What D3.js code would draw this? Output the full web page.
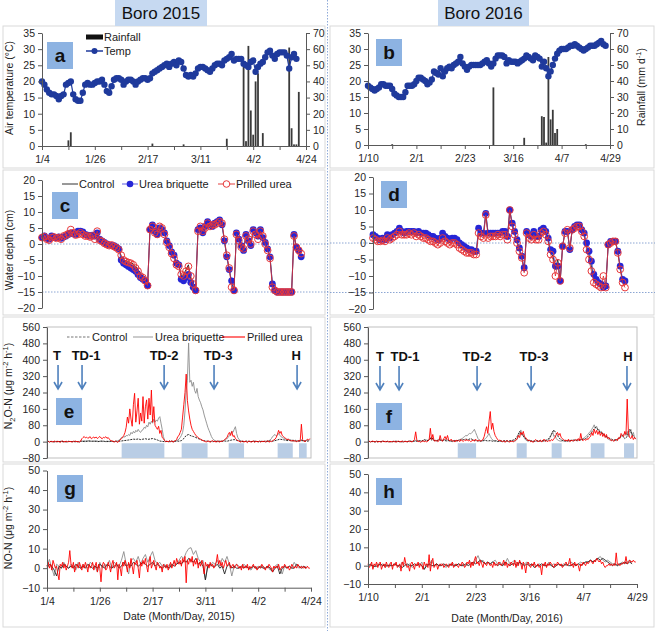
<!DOCTYPE html>
<meta charset="utf-8">
<head>
<style>
  body { margin: 0; background: #fff; }
  svg text { font-family: "Liberation Sans", Arial, sans-serif; }
</style>
</head>
<body>
<div id="content"></div>
<script src="https://d3js.org/d3.v7.min.js"></script>
<script>

// ---------- data ----------
var dateLabels15 = ["1/4", "1/26", "2/17", "3/11", "4/2", "4/24"];
var dateLabels16 = ["1/10", "2/1", "2/23", "3/16", "4/7", "4/29"];

// daily air temperature (°C), day 0 = first date
var temp15 = [20, 19, 17.5, 16.5, 16, 16, 15.5, 14.5, 15.5, 16,
  19, 19.5, 20, 16, 14.5, 14, 14, 16.5, 19, 19.5,
  19, 19, 19.5, 20, 20, 20.5, 19, 17, 16.5, 18.5,
  20.5, 21, 21, 20.5, 19, 20, 20.5, 20.5, 20, 19,
  20, 20.5, 21, 21, 20.5, 21, 22.5, 23, 23.5, 24,
  24.5, 25, 25.5, 24.5, 25.5, 26, 25, 26.5, 26, 24,
  22, 21.5, 22, 21.5, 22.5, 24, 24.5, 24.5, 24, 23.5,
  23, 24, 25, 25.5, 25.5, 25, 26.5, 27, 27.5, 28.5,
  26.5, 27, 27, 27, 25.5, 25, 24.5, 26, 26.5, 23,
  24.5, 25.5, 26, 27.5, 29, 29.5, 28, 27, 28.5, 29,
  29, 29, 28, 24, 27.5, 28.5, 27];
var temp16 = [18.5, 18, 17.5, 17, 17.5, 18, 19, 19, 18.5, 18.5,
  18.5, 17.5, 16, 15.5, 15, 15, 15, 16.5, 18.5, 18.5,
  18.5, 19, 20, 21, 21, 20.5, 20, 19, 19.5, 20.5,
  23, 22.5, 22, 24, 21.5, 23, 24, 24.5, 24, 25,
  25.5, 26, 27.5, 25.5, 24.5, 23.5, 24.5, 25, 25, 25,
  25, 25, 25.5, 26, 26.5, 25.5, 24.5, 25.5, 27, 28,
  28, 28, 27.5, 25.5, 26.5, 26, 26, 26, 25.5, 26,
  26.5, 27, 28, 27.5, 27, 26.5, 28, 27.5, 27, 24.5,
  26, 24, 21.5, 23, 25, 27, 28.5, 29.5, 30, 30,
  30, 30.5, 31, 31, 31.5, 31, 30.5, 30, 29.5, 30,
  30.5, 31, 31, 31, 31.5, 32, 32.5, 31.5, 31];

// rainfall (mm/d): day and amount
var rainDay15 = [11, 12, 46, 59, 77, 84, 85, 86, 87, 88, 89, 90, 92, 103, 104, 105, 106, 107];
var rainVal15 = [3.5, 8.5, 1.5, 1, 4.5, 51, 3, 62, 22, 7, 40, 45, 8, 61, 11, 1, 1, 33.5];
var rainDay16 = [11, 57, 71, 79, 80, 81, 82, 83, 84, 85, 86, 99];
var rainVal16 = [0.5, 36, 4.5, 18, 17.5, 1.5, 55, 16, 22, 7.5, 10, 0.5];

// water depth (cm), daily
var wdCT15 = [2, 2.2, 1.8, 1.5, 2.2, 2, 2, 2, 1.8, 2.2,
  2.5, 3, 3.5, 3.5, 3.2, 3.5, 3.8, 3.5, 3, 2.8,
  2.5, 2.5, 2.5, 3.5, 1.5, 1, 0.5, 0, -0.3, -0.5,
  -0.8, -1.2, -1.5, -4, -5, -5.2, -5.5, -5.8, -6.2, -7,
  -8, -9, -10, -11.5, -13, 4.5, 6, 4, 3, 5,
  4.5, 3.5, 1, -0.5, -2.5, -3.5, -6, -6.5, -10, -9.5,
  -8, -6.5, -11, -13, -14.5, 4.5, 5, 3.5, 5.5, 7,
  6, 5.5, 6.5, 7, 7.5, 6, 1, -4, -8, -12,
  -14.5, 3.5, 1.5, -0.5, -2, 3, 1, -0.5, 4.5, 3.5,
  2.5, 4.5, 2, 0.5, -1.5, -4, -12.5, -14.5, -15, -15,
  -15, -15, -15, -15, -15, 3, -1, -2, -4];
var wdUB15 = [2, 2.5, 1.8, 1.5, 2.5, 2, 2, 2.2, 1.8, 2.2,
  2.5, 3, 3.5, 3.2, 3, 4, 4, 3.8, 3, 2.8,
  2.5, 2.8, 2.5, 3.5, 1.5, 1, 0.5, 0, -0.3, -0.5,
  -0.5, -1, -1.5, -5, -6, -6.5, -7, -7.5, -8, -8.5,
  -9.5, -10.5, -11, -11.5, -13, 4.5, 6, 4, 3, 5,
  4.5, 3.5, 1, -0.5, -2.5, -3.5, -6, -6.5, -11, -11.5,
  -10.5, -9.5, -12, -13.5, -14.5, 4.5, 5, 3.5, 5.5, 7,
  6, 5.5, 6.5, 7, 7.5, 6, 1, -4, -8, -11.5,
  -14.5, 3.5, 1.5, -0.5, -2, 3, 1, -0.5, 4.5, 3.5,
  2.5, 4.5, 2, 0.5, -1.5, -4, -12.5, -14.5, -15, -15,
  -15, -15, -15, -15, -15, 3, -1, -2, -4];
var wdPU15 = [2, 2.3, 1.5, 1.2, 2, 2.2, 1.8, 2, 1.5, 2.5,
  2.8, 3.2, 4.5, 3.5, 2.8, 3, 3.5, 3, 2.5, 2.5,
  2.2, 2.5, 1.5, 4, 1.2, 0.8, 0.2, -0.2, -0.5, -0.3,
  -0.8, -1.2, -1.8, -3.5, -5, -5.5, -5.8, -6, -6.5, -7.5,
  -8.5, -10, -10.5, -11.5, -13, 4.5, 5.5, 3.5, 3, 5.5,
  5, 3, 0.5, -1, -3, -4.5, -6.5, -7, -9.5, -10,
  -8.5, -7, -10, -12.5, -14.5, 4, 5.5, 4, 5, 6.5,
  5.5, 6, 6, 6.5, 7, 6.5, 1.5, -3.5, -7.5, -13.5,
  -14.5, 3, 1, -1, -1.5, 2.5, 1.5, 0, 4, 3,
  1.5, 4, 2.5, 0, -2, -4.5, -13.5, -14.5, -15, -15,
  -15, -15, -15, -15, -15, 2.5, -1, -2, -3];

var wdCT16 = [2, 1.5, 1, 1, 1.2, 1, 2, 1.5, 2, 2.5,
  3, 4, 3, 3, 3, 3, 3, 3, 2.5, 3,
  2.5, 2.5, 2.5, 2, 1.5, 1.5, 1, 0.5, 1, 2.5,
  1.5, 1, 0.5, 1, 1, 0.5, -0.5, -1, -1.5, -2,
  -2.5, -2.5, -3, -3, 4, 2.5, 2.5, 9, 2.5, 2.5,
  2.5, 2.5, 3, 2.5, 3, 3, 1.5, 10, 5.5, 3,
  0.5, -2, -4.5, -8, 3.5, 2, 1.5, 3, 1.5, 1.5,
  3.5, 4, 3, 1, -3, -4, -8, -5, -11.5, -1,
  3.5, 3.5, -2, 4, 5, 5.5, 5.5, 4, 2.5, -1,
  -3.5, -7, -10.5, -11.5, -12.5, -13, -12, -13, -0.5, 0.5,
  0.5, 0.5, -2.5, -7.5, -11.5, -12.5];
var wdUB16 = [2.5, 2, 1.5, 1, 1.5, 1, 2.5, 1.5, 2.5, 3,
  3.5, 4.5, 3.5, 3, 3.5, 3.5, 3.5, 3.5, 3, 3.5,
  3, 3, 3, 2.5, 2, 2, 1.5, 1, 1.5, 3,
  2, 1.5, 1, 1.5, 1.5, 1, 0, -0.5, -1, -1.5,
  -2, -2, -2.5, -2.5, 4.5, 3, 3, 9, 3, 3,
  3, 3, 3, 3, 3.5, 3.5, 2, 10, 6, 3.5,
  1, -1.5, -4, -7.5, 3.5, 2.5, 2, 3.5, 2, 2,
  4, 4.5, 3.5, 1.5, -2, -2.5, -7, -7, -11.5, -1,
  3.5, 3.5, -2, 4, 5, 5.5, 5.5, 4, 3, 0,
  -2.5, -5.5, -9.5, -11, -12, -12.5, -13.5, -13, -0.5, 0.5,
  0.5, 0.5, -2.5, -7, -11, -11.5];
var wdPU16 = [1.5, 1, 0.5, 0.5, 0.8, 0.5, 1.5, 1, 1.5, 2,
  2.5, 3.5, 2.5, 2.5, 2.5, 3, 2.5, 3, 2, 2.5,
  2, 1.5, 1.5, 1, 0.5, 0.5, 0, -0.5, 0, 1.5,
  0.5, 0, -0.5, 0, 0, -0.5, -1.5, -2, -2.5, -3,
  -3, -3, -3.5, -3.5, 3, 2, 1.5, 8.5, 1.5, 2,
  2, 2, 2.5, 2, 2.5, 2.5, 1, 10, 5, 2.5,
  0, -2.5, -4.5, -9, 3, 1.5, 1, 2.5, 1, 1,
  3, 3.5, 2.5, 0.5, -3.5, -5, -10, -6, -11.5, -1,
  3, 4, -1.5, 4, 4.5, 5, 5, 3.5, 2, -2,
  -5, -8.5, -12, -12.5, -13, -13.5, -10, -13.5, -0.5, 0,
  0.5, 0.5, -3, -8, -12, -13.5];

// N2O-N flux (ug m-2 h-1); control daily, UB / PU every half day
var n2oCT15 = [0, 1, 0, -1, 1, 0, 2, 0, -1, 1,
  0, 1, -1, 0, 2, 1, 0, 3, 2, 1,
  2, 0, 1, 3, 1, 0, 2, 1, 0, 1,
  2, 3, 5, 6, 8, 10, 12, 11, 13, 10,
  12, 14, 11, 13, 15, 12, 8, 3, 1, 0,
  1, 0, 2, 1, 3, 2, 5, 15, 30, 35,
  28, 25, 20, 15, 10, 5, 3, 2, 1, 0,
  1, 0, 2, 1, 3, 2, 5, 8, 10, 6,
  3, 1, 0, 2, 1, 0, 1, 2, 0, 1,
  0, 2, 1, 3, 2, 5, 8, 12, 10, 8,
  5, 6, 3, 4, 2, 3, 5, 4, 2, 3];
var n2oUB15 = [0, 1, -1, 0, 2, 0, -1, 1, 0, -2, 1, 0, 2, -1, 0, 1, -1, 0, 2, 0,
  1, -1, 0, 2, 0, 1, -2, 0, 1, 3, 2, 5, 3, 4, 2, 5, 3, 2, 4, 3,
  2, 4, 3, 1, 2, 3, 0, 2, 1, 0, 3, 1, 0, 2, 1, 3, 0, 2, 4, 3,
  8, 12, 20, 18, 25, 22, 30, 28, 35, 30, 45, 38, 50, 42, 55, 48, 60, 50, 45, 55,
  58, 70, 65, 80, 72, 95, 85, 100, 90, 110, 95, 105, 100, 115, 122, 90, 60, 25, 5, 0,
  2, -1, 3, 0, 2, -2, 1, 3, 5, 8, 12, 20, 30, 45, 80, 150, 250, 300, 482, 290,
  300, 270, 290, 250, 236, 260, 220, 203, 190, 170, 155, 130, 110, 90, 70, 55, 41, 25, 15, 8,
  5, 3, 1, 4, 0, 2, 3, 5, 8, 12, 15, 20, 30, 40, 50, 45, 60, 73, 40, 20,
  10, 5, 3, 0, 2, -1, 3, 0, 1, 2, -1, 0, 3, 1, 0, 2, -2, 1, 0, 3,
  1, 0, 2, -1, 3, 5, 8, 15, 25, 30, 35, 28, 32, 40, 30, 25, 20, 18, 15, 12,
  10, 12, 8, 10, 6, 8, 5, 7, 3, 5, 2, 4, 10, 5, 2, 3, 6, 8, 4, 10];
var n2oPU15 = [0, 2, -3, 1, 0, -2, 3, 0, -1, 2, 0, -4, 1, 3, -2, 0, 2, -1, 0, 1,
  0, -2, 2, 0, 3, -1, 1, -3, 2, 14, 20, 25, 18, 22, 16, 20, 24, 14, 19, 22,
  17, 23, 15, 20, 25, 18, 14, 21, 19, 24, 16, 20, 12, 5, 4, 1, -2, 3, 0, -4,
  3, 8, 15, 22, 30, 45, 70, 120, 90, 160, 110, 75, 180, 236, 95, 150, 212, 85, 140, 100,
  220, 90, 170, 204, 110, 212, 130, 252, 95, 171, 80, 70, 60, 75, 40, 55, 20, 15, 5, 0,
  3, -2, 5, 0, 4, -3, 2, 5, 10, 25, 30, 45, 60, 120, 180, 240, 330, 200, 150, 110,
  80, 60, 50, 40, 30, 25, 20, 15, 12, 8, 5, 3, 0, -2, 4, 1, -3, 2, 5, 0,
  2, -3, 4, 0, -2, 3, 1, 5, 10, 15, 20, 35, 45, 30, 50, 25, 30, 15, 10, 5,
  3, -2, 0, 4, -3, 2, 0, -5, 3, 1, -2, 0, 4, -4, 2, 0, -1, 3, -2, 1,
  0, 3, -2, 1, 5, -3, 2, 0, 4, 8, 12, 20, 35, 55, 40, 50, 30, 25, 20, 15,
  10, 12, 8, 5, 3, 6, 2, 4, 0, 3, 5, 2, 85, 10, 3, 0, 5, 12, 8, 15];

var n2oCT16 = [0, 1, 0, -1, 1, 0, 2, 0, 1, -1,
  0, 2, 1, 0, -1, 1, 0, 2, 1, 3,
  2, 5, 3, 10, 5, 8, 20, 6, 4, 10,
  5, 8, 3, 5, 2, 4, 3, 6, 8, 10,
  12, 10, 15, 8, 5, 3, 2, 4, 6, 3,
  5, 2, 4, 1, 3, 2, 5, 3, 4, 6,
  10, 25, 50, 35, 20, 8, 5, 3, 2, 4,
  3, 5, 4, 8, 15, 35, 57, 40, 20, 8,
  5, 3, 4, 6, 8, 5, 10, 8, 12, 15,
  25, 40, 55, 70, 60, 45, 40, 30, 20, 15,
  10, 8, 12, 20, 30, 15, 25, 60, 35, 20];
var n2oUB16 = [0, 1, -1, 0, 1, 0, -1, 2, 0, 1, -1, 0, 1, 0, 2, -1, 0, 1, 0, -1,
  1, 0, -1, 2, 0, 1, 0, -1, 2, 1, 0, 3, -2, 1, 5, 2, 0, 3, 1, 8,
  2, 5, 0, 3, 1, 6, 2, 4, 8, 3, 10, 20, 5, 15, 3, 8, 2, 5, 10, 15,
  5, 3, 8, 12, 6, 10, 4, 2, 5, 0, 3, 6, 2, 4, 8, 10, 12, 15, 20, 25,
  30, 28, 35, 40, 38, 45, 50, 60, 45, 30, 15, 8, 5, 3, 6, 10, 15, 20, 30, 40,
  25, 15, 8, 4, 2, 5, 0, 3, 1, 4, 0, 2, -2, 3, 1, 0, 2, 1, 3, 0,
  2, 5, 12, 25, 40, 57, 30, 35, 15, 8, 4, 2, 5, 1, 3, 0, 2, 1, 4, 2,
  1, 3, 0, 2, 4, 1, 6, 3, 10, 20, 35, 50, 25, 30, 15, 8, 5, 3, 2, 4,
  3, 1, 4, 2, 5, 3, 8, 2, 4, 10, 6, 3, 5, 8, 10, 12, 15, 20, 25, 30,
  35, 45, 50, 60, 70, 82, 65, 75, 55, 60, 45, 50, 35, 30, 25, 20, 15, 10, 8, 5,
  6, 4, 8, 3, 10, 15, 20, 30, 25, 35, 40, 30, 50, 25, 40, 60, 30, 45, 20, 15];
var n2oPU16 = [0, 2, -2, 1, 3, -1, 0, 2, -3, 1, 0, -2, 3, 1, -1, 0, 2, -2, 1, 0,
  -1, 2, 0, -3, 1, 2, -1, 0, 3, -2, 1, 0, -1, 2, 0, 1, -2, 3, 10, 48,
  5, 0, 2, -3, 1, 4, 0, 2, -1, 3, 8, 65, 10, 35, 5, 2, 8, 0, 4, 30,
  6, 2, 15, 25, 10, 30, 8, 4, 12, 2, 5, -2, 8, 3, 6, 0, 10, 4, 2, 8,
  5, 10, 3, 6, 0, 4, 8, 2, 12, 5, 3, 8, 2, 6, 10, 25, 50, 73, 40, 100,
  147, 60, 90, 50, 30, 20, 10, 5, 8, 2, 0, 4, -3, 2, 5, 0, -2, 3, 1, 0,
  5, 8, 15, 30, 20, 45, 35, 50, 25, 20, 10, 5, 8, 0, 3, -4, 2, 10, 5, 0,
  3, 8, -2, 5, 12, 2, 4, 0, 6, 2, 10, 5, 15, 20, 35, 45, 30, 40, 20, 15,
  10, 5, 8, 2, 12, 0, 4, 8, 2, 6, 10, 5, 15, 3, 40, 8, 5, 12, 6, 15,
  10, 20, 25, 45, 30, 60, 40, 55, 35, 50, 30, 45, 25, 40, 20, 35, 15, 20, 10, 5,
  8, 2, 6, 12, 5, 20, 15, 40, 30, 25, 50, 35, 208, 40, 20, 15, 30, 10, 20, 12];

// NO-N flux (ug m-2 h-1); control / UB daily, PU every half day
var noCT15 = [0, 2, 1, -1, -4, 1, 0, 2, 1, 0,
  1, 0, 2, 1, 0, 1, 0, 2, 1, 0,
  1, 0, 2, 1, 0, 2, 1, 0, 1, 2,
  0, 1, 3, 1, 2, 1, 3, 2, 1, 2,
  3, 2, 1, 2, 3, 1, 2, 1, 0, 1,
  1, 0, 2, 1, 2, 3, 2, 4, 3, 5,
  4, 3, 5, 2, 3, 1, -6, 1, 2, 1,
  1, 2, 0, 1, -3, 1, 2, 0, 1, 0,
  0, 1, 0, 1, 0, 0, 1, 0, 0, 1,
  0, 0, 1, 0, -2, 0, 1, -3, 0, 1,
  0, 1, 0, 0, 2, 1, 0, 1, 0];
var noUB15 = [1, 4.5, 0, -4, 2, 1, 0, 3, 1, 0,
  2, 1, -1, 3, 0, 2, 1, 0, 3, 2,
  1, -2, 3, 0, 2, 1, 4, 0, 3, 2,
  1, 4, 8.5, 2, -3, 4, 5, 3, 6, 2,
  5, 7, 3, 6, 8.5, 4, 2, 3, 1, 2,
  0, 2, 1, 3, 2, 4, 6, 5, 8, 10,
  10.5, 7, 9, 5, 3, 4, -6, 2, 1, 3,
  2, 4, 1, 5, 3, 6, 2, -4, 1, 2,
  1, 0, 2, 1, 0, -1, 1, 0, 1, 0,
  1, 0, 1, -1, 0, 1, 2, 0, -3, 1,
  0, 1, 0, 3, 1, 0, 1, 0, 1];
var noPU15 = [1, 3, 0, 2, -1, 4, 2, 0, 1, -3, -6, 2, 1, 3, 0, 2, -1, 1, 3, 9,
  2, 0, 3, -2, 1, 2, 0, 3, 1, -1, 2, 0, 3, 1, -2, 2, 0, 1, 3, -1,
  1, 3, -2, 2, 0, -7, 1, 3, 2, -1, 0, 3, 1, -2, 2, 4, 0, 1, 3, -6,
  2, 0, -4, 3, 1, 4, 2, -2, 3, 0, 5, 1, -3, 3, 2, 4, 0, -5, 3, 1,
  4, 2, 5, 1, -2, 3, 6, 0, 2, 4, 1, -1, 3, 2, 0, 1, -2, 2, 1, 0,
  2, -1, 1, 3, 0, 2, 4, 1, 5, 3, 2, 4, 1, 5, 3, 6, -7.5, 4, 2, 5,
  3, 6, 1, 4, 2, 5, 0, 3, 1, 4, 2, -3, 3, 1, 2, 0, 3, 1, 2, 0,
  1, 3, 7, 2, 4, 1, 3, 0, 2, 4, 1, 2, 3, 0, 1, 2, 0, 1, 2, 1,
  0, 1, -1, 2, 0, 1, 0, 2, -1, 1, 0, 1, 2, 0, 1, -1, 0, 1, 0, 2,
  1, 0, -1, 1, 0, 2, 1, 0, -2, 1, 0, 1, 0, 2, -1, 0, 1, 0, 2, 1,
  0, 1, -1, 0, 2, 1, 0, 1, 0, 2, 1, 0, 1, 0, 1, 0, 0, 1, 0, 0];

var noCT16 = [0, 0.5, 0, -0.5, 0, 1, 0, 0.5, 0, 0,
  0, 1, 0, 0, -1, 0, 1, 0, 0, 1,
  0, 1, 0, -2, 0, 1, 0, 0, 1, 0,
  0, 1, 0, 0, 1, 0, 0, 1, 0, 0,
  1, 0, 1, 2, 1, 2, 3, 2, 1, 2,
  1, 2, 1, 0, 1, 0, 2, 1, 0, 1,
  1, 0, 2, 1, 0, 1, 0, 1, -1, 0,
  0, 1, 0, 0, 1, 0, -1, 0, 1, 0,
  0, 1, 0, 0, 1, 0, 1, 0, 1, 2,
  2, 3, 2, 3, 4, 3, 4, 3, 2, 1,
  0, 1, 0, 1, 1, 2, 1, 2, 1];
var noUB16 = [0, 1, -1, 0, 1, 0, 1, -1, 0, 1,
  0, 1, 0, -1, 2, 1, 0, 1, -1, 0,
  1, 0, 2, -2, 1, 0, 3, 0, 1, 0,
  1, 0, -1, 1, 0, 1, 0, 1, 0, 1,
  0, 1, 2, 0, 3, 5.5, 2, 3, 1, 2,
  1, 2, 3, 1, 2, 0, 1, 4, 1, 2,
  3, 1, 2, 0, 1, 2, 1, 0, 1, 0,
  1, 0, 1, 0, 2, 0, 1, 0, 1, 0,
  1, 0, 1, 2, 1, 0, 1, 2, 1, 2,
  2, 3, 2, 3, 4, 5, 3, 2, 3, 2,
  1, 1, 0, 1, 2, 1, 2, 3, 2];
var noPU16 = [1, -1, 0, 2, -2, 1, 0, 2, -1, 1, 2, -2, 0, 1, -1, 2, 0, -1, 1, 2,
  -2, 1, 0, 2, -1, 0, 1, -3, 2, 0, 4.5, 1, -1, 0, -3, 1, 2, 0, -2, 1,
  0, 2, -1, 1, 0, -2, 2, 0, 1, -1, 6, -3, 2, 4, -1, 0, 1, -2, 0, 1,
  0, 1, -1, 0, 1, 0, -1, 1, 0, 2, -1, 0, 1, 0, -1, 1, 0, 2, 1, -1,
  0, 2, 1, 3, -1, 2, 0, 3, 5, 1, 2, 0, 3, 1, -1, 2, 1, 0, 2, 1,
  0, 1, -1, 2, 0, 1, 0, 2, 1, 0, 1, 3, 0, 2, -1, 1, 0, 2, 1, 0,
  3, -1, 2, 0, 3, 1, -2, 2, 0, -4, 1, 2, 0, -1, 1, 0, 2, -1, 0, 1,
  -1, 0, -5, 1, 0, 2, -1, 1, 0, 2, 1, 0, -1, 1, 0, 2, 1, 0, 1, -1,
  0, 1, 2, 0, 1, 4, 0, 1, -1, 2, 0, 1, 0, -3, 1, 0, 2, 1, 0, 2,
  1, 2, 3, 2, 1, 3, 2, 4, 3, 2, 3, 1, 2, 0, -1, 0, 0, 1, 0, 1,
  0, 1, 0, 7, 0.5, 1, 0, 1, 1, 2, 1, 5, 1, 2, 3, 2, 2, 3, 2, 2];

// drained periods (shaded) and event arrows (days)
var shade15 = [[31.1, 48.9], [56.1, 66.9], [75.7, 82.1], [96.1, 102.4], [105, 108.2]];
var shade16 = [[36.7, 44.2], [60.8, 64.9], [75.1, 79.2], [91.1, 96.7], [104.7, 108.8]];
var eventLabels = ["T", "TD-1", "TD-2", "TD-3", "H"];
var eventDay15 = [4.6, 14.6, 48.8, 69.6, 104.2];
var eventDay16 = [4.9, 12.7, 44.6, 66.7, 105.9];
var eventLabelDay15 = [4.2, 16.3, 48.8, 71.3, 103.8];
var eventLabelDay16 = [4.9, 15.1, 44.6, 67.9, 106.3];

// ---------- drawing ----------
var FONT = "'Liberation Sans', Arial, sans-serif";
var svg = d3.select("#content").append("svg")
    .attr("width", 655).attr("height", 631);

// panel frames
[[3, 26, 322, 142], [3, 170, 322, 145], [3, 317, 322, 145], [3, 464, 322, 163],
 [330, 26, 324, 142], [330, 170, 324, 145], [330, 317, 324, 145], [330, 464, 324, 163]]
.forEach(function(f) {
    svg.append("rect").attr("x", f[0]).attr("y", f[1]).attr("width", f[2]).attr("height", f[3])
      .attr("fill", "none").attr("stroke", "#d9d9d9");
});
svg.append("line").attr("x1", 327.5).attr("x2", 327.5).attr("y1", 0).attr("y2", 631)
  .attr("stroke", "#8faad8").attr("stroke-dasharray", "1.5,1.5");

// scales
var xA = d3.scaleLinear().domain([0, 110]).range([42, 306]);
var xB = d3.scaleLinear().domain([0, 110]).range([368, 610]);
var xD = d3.scaleLinear().domain([0, 110]).range([373, 637]);
var xE = d3.scaleLinear().domain([0, 110]).range([47, 311]);
var xF = d3.scaleLinear().domain([0, 110]).range([368, 637]);
var yA = d3.scaleLinear().domain([0, 35]).range([146, 33]);
var yAr = d3.scaleLinear().domain([0, 70]).range([146, 33]);
var yB = d3.scaleLinear().domain([0, 35]).range([145, 33]);
var yBr = d3.scaleLinear().domain([0, 70]).range([145, 33]);
var yC = d3.scaleLinear().domain([-20, 20]).range([308, 180]);
var yD = d3.scaleLinear().domain([-20, 20]).range([309, 177]);
var yE = d3.scaleLinear().domain([-80, 560]).range([458, 327]);
var yG = d3.scaleLinear().domain([-10, 50]).range([587.7, 470.5]);
var yH = d3.scaleLinear().domain([-10, 50]).range([584, 474]);

function styleAxis(ax) {
    ax.attr("font-family", FONT).attr("font-size", 10.5);
    ax.select(".domain").attr("stroke", "#595959");
    ax.selectAll(".tick line").attr("stroke", "#595959");
    ax.selectAll(".tick text").attr("fill", "#262626");
}
function leftAxis(y, x, ticks) {
    var ax = svg.append("g").attr("transform", "translate(" + x + ",0)")
      .call(d3.axisLeft(y).tickValues(ticks).tickSize(4).tickSizeOuter(0).tickPadding(3));
    styleAxis(ax);
}
function rightAxis(y, x, ticks) {
    var ax = svg.append("g").attr("transform", "translate(" + x + ",0)")
      .call(d3.axisRight(y).tickValues(ticks).tickSize(4).tickSizeOuter(0).tickPadding(3));
    styleAxis(ax);
}
function dateAxis(xs, y, labels) {
    var ax = svg.append("g").attr("transform", "translate(0," + y + ")")
      .call(d3.axisBottom(xs).tickValues(d3.range(0, 111, 11)).tickSize(4).tickSizeOuter(0).tickPadding(6)
        .tickFormat(function(d) { return d % 22 === 0 ? labels[d / 22] : ""; }));
    styleAxis(ax);
}
function yTitle(x, y, parts) {
    var t = svg.append("text").attr("transform", "translate(" + x + "," + y + ") rotate(-90)")
      .attr("text-anchor", "middle").attr("font-size", 10.5).attr("fill", "#222");
    var off = 0;
    parts.forEach(function(p) {
        var target = p[1] === "sub" ? 2.5 : (p[1] === "sup" ? -4 : 0);
        var ts = t.append("tspan").text(p[0]).attr("dy", target - off);
        if (p[1]) ts.attr("font-size", 7.5);
        off = target;
    });
}
function line(g, xs, ys, vals, step, color, w, dash) {
    g.append("path").datum(vals)
      .attr("d", d3.line().x(function(d, i) { return xs(i * step); }).y(function(d) { return ys(d); }))
      .attr("fill", "none").attr("stroke", color).attr("stroke-width", w)
      .attr("stroke-dasharray", dash || null).attr("stroke-linejoin", "round");
}
function dots(g, xs, ys, vals, r, fill, stroke) {
    g.selectAll(null).data(vals).enter().append("circle")
      .attr("cx", function(d, i) { return xs(i); }).attr("cy", function(d) { return ys(d); })
      .attr("r", r).attr("fill", fill).attr("stroke", stroke || "none").attr("stroke-width", 1);
}
function labelBox(x, y, letter) {
    svg.append("rect").attr("x", x).attr("y", y).attr("width", 26).attr("height", 27).attr("fill", "#8db3e2");
    svg.append("text").attr("x", x + 13).attr("y", y + 20).attr("text-anchor", "middle")
      .attr("font-size", 19).attr("font-weight", "bold").attr("fill", "#111").text(letter);
}
function titleBox(x, w, txt) {
    svg.append("rect").attr("x", x).attr("y", 0).attr("width", w).attr("height", 26).attr("fill", "#c6d9f1");
    svg.append("text").attr("x", x + w / 2).attr("y", 19).attr("text-anchor", "middle")
      .attr("font-size", 17).attr("fill", "#111").text(txt);
}
function txt(x, y, s, size) {
    svg.append("text").attr("x", x).attr("y", y).attr("font-size", size || 11).attr("fill", "#222").text(s);
}

titleBox(115, 92, "Boro 2015");
titleBox(438, 91, "Boro 2016");

// ----- a / b : temperature and rainfall -----
function tempPanel(xs, ys, yr, temp, rDay, rVal) {
    var g = svg.append("g");
    g.selectAll(null).data(rDay).enter().append("rect")
      .attr("x", function(d) { return xs(d) - 0.9; }).attr("width", 1.8)
      .attr("y", function(d, i) { return yr(rVal[i]); })
      .attr("height", function(d, i) { return yr(0) - yr(rVal[i]); })
      .attr("fill", "#3a3a3a");
    line(g, xs, ys, temp, 1, "#1f3a9c", 1.2);
    dots(g, xs, ys, temp, 3.2, "#1f3a9c");
}
tempPanel(xA, yA, yAr, temp15, rainDay15, rainVal15);
tempPanel(xB, yB, yBr, temp16, rainDay16, rainVal16);
leftAxis(yA, 42, d3.range(0, 36, 5));
rightAxis(yAr, 306, d3.range(0, 71, 10));
leftAxis(yB, 368, d3.range(0, 36, 5));
rightAxis(yBr, 610, d3.range(0, 71, 10));
dateAxis(xA, 146, dateLabels15);
dateAxis(xB, 145, dateLabels16);
yTitle(13, 88, [["Air temperature (°C)", ""]]);
yTitle(645, 87, [["Rainfall (mm d", ""], ["-1", "sup"], [")", ""]]);
// legend a
svg.append("rect").attr("x", 86).attr("y", 34.5).attr("width", 17).attr("height", 5).attr("fill", "#111");
txt(104, 41, "Rainfall");
svg.append("line").attr("x1", 86).attr("x2", 103).attr("y1", 51).attr("y2", 51).attr("stroke", "#1f3a9c").attr("stroke-width", 1.5);
svg.append("circle").attr("cx", 94.5).attr("cy", 51).attr("r", 3).attr("fill", "#1f3a9c");
txt(104, 55, "Temp");
labelBox(47, 42, "a");
labelBox(376, 39, "b");

// ----- c / d : water depth -----
function depthPanel(xs, ys, x0, x1, ct, ub, pu) {
    var g = svg.append("g");
    [0, -15].forEach(function(v) {
        g.append("line").attr("x1", x0).attr("x2", x1).attr("y1", ys(v)).attr("y2", ys(v))
          .attr("stroke", "#6f8fc8").attr("stroke-width", 0.8).attr("stroke-dasharray", "1.5,1.5");
    });
    line(g, xs, ys, ct, 1, "#333", 1);
    line(g, xs, ys, ub, 1, "#4a4ad8", 0.8);
    dots(g, xs, ys, ub, 3.4, "#2626d6");
    line(g, xs, ys, pu, 1, "#e02828", 0.8);
    dots(g, xs, ys, pu, 3.4, "none", "#e8383a");
}
depthPanel(xA, yC, 42, 330, wdCT15, wdUB15, wdPU15);
depthPanel(xD, yD, 330, 655, wdCT16, wdUB16, wdPU16);
leftAxis(yC, 42, d3.range(-20, 21, 5));
leftAxis(yD, 373, d3.range(-20, 21, 5));
yTitle(13, 250, [["Water depth (cm)", ""]]);
// legend c
svg.append("line").attr("x1", 62).attr("x2", 78).attr("y1", 184).attr("y2", 184).attr("stroke", "#333").attr("stroke-width", 1);
txt(79, 188, "Control");
svg.append("line").attr("x1", 122).attr("x2", 138).attr("y1", 184).attr("y2", 184).attr("stroke", "#7878e8").attr("stroke-width", 1.2);
svg.append("circle").attr("cx", 130).attr("cy", 184).attr("r", 3.3).attr("fill", "#2626d6");
txt(139, 188, "Urea briquette");
svg.append("line").attr("x1", 218).attr("x2", 235).attr("y1", 184).attr("y2", 184).attr("stroke", "#e86060").attr("stroke-width", 1.2);
svg.append("circle").attr("cx", 226.5).attr("cy", 184).attr("r", 3.3).attr("fill", "#fff").attr("stroke", "#e8383a");
txt(236, 188, "Prilled urea");
labelBox(52, 192, "c");
labelBox(381, 181, "d");

// ----- e / f : N2O -----
function n2oPanel(xs, ys, shade, evDay, evLabDay, ct, ub, pu, labY) {
    var g = svg.append("g");
    g.append("rect").attr("x", xs(0)).attr("y", ys(560)).attr("width", xs(110) - xs(0))
      .attr("height", ys(-80) - ys(560)).attr("fill", "none").attr("stroke", "#bfbfbf");
    g.selectAll(null).data(shade).enter().append("rect")
      .attr("x", function(d) { return xs(d[0]); }).attr("width", function(d) { return xs(d[1]) - xs(d[0]); })
      .attr("y", ys(-8)).attr("height", ys(-80) - ys(-8)).attr("fill", "#b9cde5");
    line(g, xs, ys, ub, 0.5, "#8c8c8c", 0.9);
    line(g, xs, ys, ct, 1, "#111", 0.9, "2,1");
    line(g, xs, ys, pu, 0.5, "#ff0000", 0.9);
    evDay.forEach(function(d, i) {
        var x = xs(d);
        svg.append("text").attr("x", xs(evLabDay[i])).attr("y", labY).attr("text-anchor", "middle")
          .attr("font-size", 13).attr("font-weight", "bold").attr("fill", "#111").text(eventLabels[i]);
        svg.append("path").attr("d", "M" + x + "," + (labY + 5) + "V" + (labY + 29) +
            "M" + (x - 4) + "," + (labY + 22) + "L" + x + "," + (labY + 29) + "L" + (x + 4) + "," + (labY + 22))
          .attr("fill", "none").attr("stroke", "#4f81bd").attr("stroke-width", 1.6);
    });
}
n2oPanel(xE, yE, shade15, eventDay15, eventLabelDay15, n2oCT15, n2oUB15, n2oPU15, 360);
n2oPanel(xF, yE, shade16, eventDay16, eventLabelDay16, n2oCT16, n2oUB16, n2oPU16, 361);
leftAxis(yE, 47, d3.range(-80, 561, 80));
leftAxis(yE, 368, d3.range(-80, 561, 80));
yTitle(12, 386, [["N", ""], ["2", "sub"], ["O-N (μg m", ""], ["-2", "sup"], [" h", ""], ["-1", "sup"], [")", ""]]);
// legend e
svg.append("line").attr("x1", 67).attr("x2", 90).attr("y1", 337).attr("y2", 337).attr("stroke", "#777").attr("stroke-width", 1.1).attr("stroke-dasharray", "2.5,1.5");
txt(92, 341, "Control");
svg.append("line").attr("x1", 133).attr("x2", 153).attr("y1", 337).attr("y2", 337).attr("stroke", "#a0a0a0").attr("stroke-width", 1.1);
txt(155, 341, "Urea briquette");
svg.append("line").attr("x1", 222).attr("x2", 245).attr("y1", 337).attr("y2", 337).attr("stroke", "#ff0000").attr("stroke-width", 1.1);
txt(247, 341, "Prilled urea");
labelBox(56, 398, "e");
labelBox(376, 403, "f");

// ----- g / h : NO -----
function noPanel(xs, ys, ct, ub, pu) {
    var g = svg.append("g");
    line(g, xs, ys, ub, 1, "#8c8c8c", 0.9);
    line(g, xs, ys, ct, 1, "#222", 0.9);
    line(g, xs, ys, pu, 0.5, "#ff0000", 0.9);
}
noPanel(xE, yG, noCT15, noUB15, noPU15);
noPanel(xF, yH, noCT16, noUB16, noPU16);
leftAxis(yG, 47, d3.range(-10, 51, 10));
leftAxis(yH, 368, d3.range(-10, 51, 10));
dateAxis(xE, 587.7, dateLabels15);
dateAxis(xF, 584, dateLabels16);
yTitle(12, 528, [["NO-N (μg m", ""], ["-2", "sup"], [" h", ""], ["-1", "sup"], [")", ""]]);
svg.append("text").attr("x", 179).attr("y", 620).attr("text-anchor", "middle").attr("font-size", 10.5).attr("fill", "#222").text("Date (Month/Day, 2015)");
svg.append("text").attr("x", 507).attr("y", 622).attr("text-anchor", "middle").attr("font-size", 10.5).attr("fill", "#222").text("Date (Month/Day, 2016)");
labelBox(57, 475, "g");
labelBox(376, 478, "h");

</script>
</body>
</html>
